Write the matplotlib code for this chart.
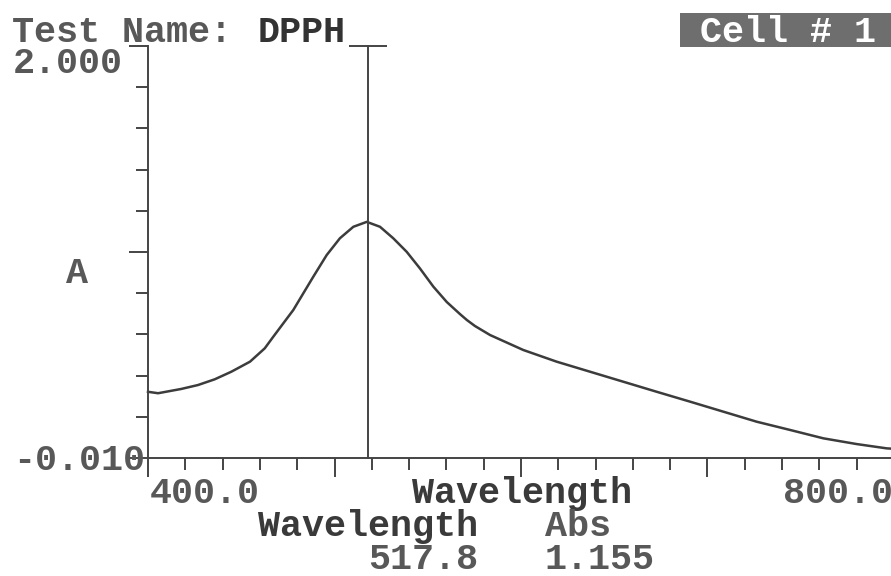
import matplotlib
matplotlib.use("Agg")
import matplotlib.pyplot as plt
from matplotlib.patches import Rectangle
from matplotlib.ticker import MultipleLocator, FixedLocator
import numpy as np

# ---- data ----
wavelength = [400.0, 405.4, 417.9, 426.8, 435.8, 444.7, 454.7, 462.6, 467.2, 477.9,
              488.6, 495.8, 502.9, 510.1, 517.3, 524.4, 531.5, 538.7, 545.8, 553.0,
              560.2, 567.3, 571.0, 575.3, 583.4, 601.2, 619.1, 637.0, 654.9, 672.8,
              690.6, 708.5, 726.4, 744.2, 762.1, 780.0, 796.1, 800.0]
absorbance = [0.313, 0.306, 0.327, 0.346, 0.374, 0.411, 0.460, 0.525, 0.582, 0.712,
              0.874, 0.980, 1.062, 1.118, 1.142, 1.118, 1.062, 0.996, 0.915, 0.826,
              0.751, 0.692, 0.663, 0.634, 0.590, 0.517, 0.460, 0.411, 0.362, 0.313,
              0.265, 0.216, 0.167, 0.127, 0.086, 0.058, 0.037, 0.035]
x_range = [400.0, 800.0]
y_range = [-0.010, 2.000]
cursor_wavelength = 517.8
cursor_abs = 1.155
test_name = "DPPH"
cell_label = "Cell # 1"

W, H = 891, 576
fig = plt.figure(figsize=(W / 100, H / 100), dpi=100)
fig.patch.set_facecolor("white")

ax = fig.add_axes([148 / W, (H - 458) / H, (894 - 148) / W, (458 - 46) / H])
ax.set_xlim(*x_range)
ax.set_ylim(*y_range)
ax.set_facecolor("none")

line_c = "#3c3c3c"
for s in ("top", "right"):
    ax.spines[s].set_visible(False)
for s in ("left", "bottom"):
    ax.spines[s].set_color("#444444")
    ax.spines[s].set_linewidth(1.4)

ax.xaxis.set_major_locator(MultipleLocator(100))
ax.xaxis.set_minor_locator(MultipleLocator(20))
yspan = y_range[1] - y_range[0]
ax.yaxis.set_major_locator(FixedLocator([y_range[0], y_range[0] + yspan / 2, y_range[1]]))
ax.yaxis.set_minor_locator(FixedLocator(list(y_range[0] + yspan / 10 * np.arange(11))))
ax.tick_params(which="major", direction="out", length=14, width=1.4, color="#444444",
               labelbottom=False, labelleft=False)
ax.tick_params(which="minor", direction="out", length=8.5, width=1.4, color="#444444")

# spectrum
ax.plot(wavelength, absorbance, color=line_c, lw=1.8, clip_on=False,
        solid_joinstyle="round")

# cursor
ax.axvline(cursor_wavelength, color="#444444", lw=1.4)
ax.plot([cursor_wavelength], [y_range[1]], marker="_", ms=27, mew=1.4,
        color="#444444", clip_on=False)

FONT = "Liberation Mono"
FS = 26.5


def ftext(px, py, s, color="#4a4a4a", weight="bold", ha="left", **kw):
    fig.text(px / W, 1 - py / H, s, fontfamily=FONT, fontsize=FS, va="baseline",
             ha=ha, color=color, fontweight=weight, **kw)


# header
ftext(12, 42, "Test Name: ", color="#585858")
ftext(258, 42, test_name, color="#333333")
fig.add_artist(Rectangle((680 / W, 1 - 47 / H), (W - 680) / W, 34 / H,
                         transform=fig.transFigure, facecolor="#6e6e6e",
                         edgecolor="none"))
ftext(700, 42, cell_label, color="white")

# y labels
ftext(13, 73, f"{y_range[1]:.3f}", color="#585858")
ftext(13, 470, f"{y_range[0]:.3f}", color="#585858")
ftext(66, 283, "A", color="#585858")

# x labels
ftext(150, 503, f"{x_range[0]:.1f}", color="#585858")
ftext(522, 503, "Wavelength", color="#3a3a3a", ha="center")
ftext(783, 503, f"{x_range[1]:.1f}", color="#585858")

# readout
ftext(258, 536, "Wavelength", color="#3a3a3a")
ftext(545, 536, "Abs", color="#585858")
ftext(368, 569, f"{cursor_wavelength:.1f}", color="#585858")
ftext(545, 569, f"{cursor_abs:.3f}", color="#585858")

fig.savefig("out.png", dpi=100, facecolor="white")
